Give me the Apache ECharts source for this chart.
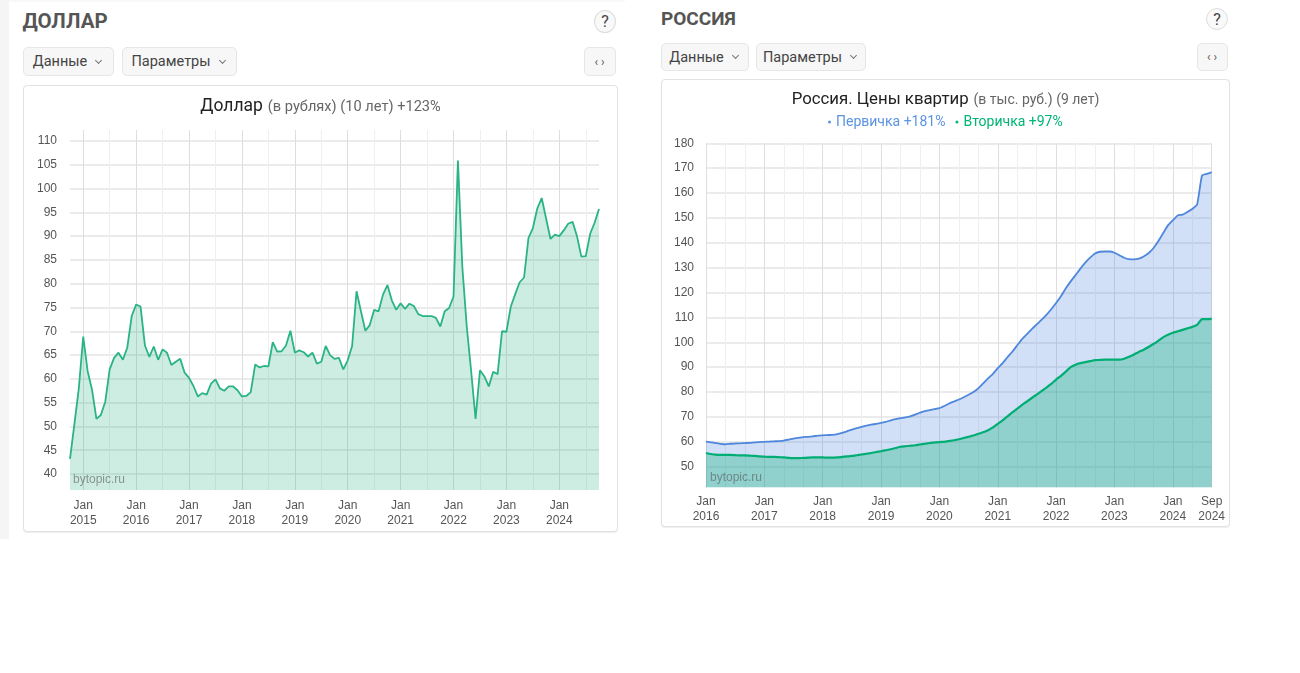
<!DOCTYPE html>
<html lang="ru"><head><meta charset="utf-8">
<script src="https://cdn.jsdelivr.net/npm/echarts@6/dist/echarts.min.js"></script>
<style>
html,body{margin:0;padding:0;width:1300px;height:673px;background:#fff;overflow:hidden;font-family:Roboto,sans-serif}
.abs{position:absolute;box-sizing:border-box}
.strip{left:0;top:0;width:9px;height:539px;background:#f5f5f5}
.topline{left:9px;top:0;width:616px;height:2px;background:#f9f9f9}
.card{background:#fff;border:1px solid #e2e2e2;border-radius:4px;box-shadow:0 1px 1px #eee}
.head{font-weight:700;color:#555;white-space:nowrap;line-height:1}
.btn{background:#f7f7f7;border:1px solid #e6e6e6;border-radius:5px;color:#444;font-size:14.5px;display:flex;align-items:center;justify-content:center;white-space:nowrap}
.chev{display:inline-block;width:4px;height:4px;border-right:1px solid #777;border-bottom:1px solid #777;transform:rotate(45deg);margin:-3px 3px 0 9px}
.code{font-size:12px;letter-spacing:3px;padding-left:2px;color:#555}
.help{background:#f9f9f9;border:1px solid #ddd;border-radius:50%;color:#444;font-size:16px;display:flex;align-items:center;justify-content:center}
#chart{position:absolute;left:0;top:0;width:1300px;height:673px}
</style></head><body>
<div class="abs strip"></div><div class="abs topline"></div>
<div class="abs head" style="left:22.5px;top:11px;font-size:20.5px">ДОЛЛАР</div>
<div class="abs help" style="left:594px;top:10px;width:22px;height:23px">?</div>
<div class="abs btn" style="left:23px;top:47px;width:91px;height:29px">Данные<i class="chev"></i></div>
<div class="abs btn" style="left:122px;top:47px;width:115px;height:29px">Параметры<i class="chev"></i></div>
<div class="abs btn code" style="left:584px;top:47px;width:32px;height:29px">‹›</div>
<div class="abs card" style="left:23px;top:85px;width:595px;height:447px"></div>
<div class="abs head" style="left:661px;top:9px;font-size:19px">РОССИЯ</div>
<div class="abs help" style="left:1206px;top:8px;width:22px;height:22px">?</div>
<div class="abs btn" style="left:661px;top:43px;width:88px;height:28px">Данные<i class="chev"></i></div>
<div class="abs btn" style="left:756px;top:43px;width:110px;height:28px">Параметры<i class="chev"></i></div>
<div class="abs btn code" style="left:1197px;top:43px;width:31px;height:28px">‹›</div>
<div class="abs card" style="left:661px;top:79px;width:569px;height:448px"></div>
<div id="chart"></div>
<script>
var dollarValues = [
 43.2,50.5,58.0,
 68.9,61.6,57.7,51.6,52.4,55.2,62.0,64.4,65.5,64.0,66.6,73.2,
 75.6,75.2,67.0,64.6,66.8,64.0,66.2,65.5,62.9,63.6,64.2,61.3,
 60.2,58.5,56.3,57.0,56.7,59.0,59.9,58.0,57.5,58.4,58.4,57.6,
 56.3,56.4,57.2,63.0,62.4,62.7,62.6,67.7,65.7,65.8,67.0,70.1,
 65.5,66.0,65.6,64.7,65.5,63.2,63.6,66.9,65.0,64.2,64.4,62.0,
 63.9,66.9,78.4,74.2,70.1,71.3,74.5,74.2,77.7,79.7,76.5,74.5,
 75.9,74.7,75.8,75.3,73.6,73.2,73.2,73.2,72.8,71.0,74.2,74.9,
 77.3,105.9,83.5,71.0,61.6,51.6,61.8,60.5,58.4,61.5,61.0,70.0,
 69.9,75.2,77.8,80.3,81.3,89.6,91.7,95.8,98.0,93.7,89.4,90.3,
 90.0,91.2,92.6,93.0,90.0,85.7,85.8,90.5,92.8,95.7
];
var primaryValues = [
 60.1,59.8,59.5,59.2,59.0,59.2,59.3,59.4,59.5,59.6,59.8,59.9,
 60.0,60.1,60.2,60.3,60.5,60.9,61.3,61.6,61.9,62.0,62.2,62.5,
 62.6,62.7,62.8,63.1,63.6,64.2,64.9,65.5,66.0,66.5,66.9,67.2,
 67.6,68.0,68.6,69.1,69.5,69.8,70.2,70.9,71.7,72.3,72.7,73.1,
 73.5,74.4,75.4,76.2,77.0,77.9,78.9,80.0,81.5,83.5,85.5,87.3,
 89.6,91.6,94.0,96.2,98.8,101.3,103.3,105.3,107.2,109.0,111.0,113.3,
 115.8,118.5,121.7,124.5,127.0,129.6,132.0,134.0,135.7,136.4,136.5,136.5,
 136.0,135.0,134.0,133.4,133.3,133.6,134.5,135.8,137.8,140.6,143.8,147.0,
 149.0,151.0,151.3,152.4,153.6,155.4,167.0,167.7,168.4
];
var secondaryValues = [
 55.5,55.1,54.8,54.7,54.7,54.7,54.6,54.5,54.5,54.4,54.3,54.1,
 54.0,53.9,53.9,53.8,53.7,53.5,53.4,53.4,53.5,53.6,53.7,53.7,
 53.7,53.6,53.6,53.7,53.9,54.1,54.3,54.6,54.9,55.2,55.5,55.9,
 56.2,56.6,57.0,57.5,58.0,58.2,58.4,58.6,58.9,59.2,59.5,59.7,
 59.9,60.0,60.3,60.6,61.0,61.5,62.0,62.5,63.2,63.8,64.6,65.8,
 67.2,68.6,70.2,71.8,73.3,74.8,76.2,77.6,79.0,80.4,81.8,83.3,
 85.0,86.5,88.2,90.0,91.0,91.6,92.0,92.4,92.8,92.9,93.0,93.0,
 93.0,93.0,93.4,94.2,95.1,96.1,97.0,98.1,99.3,100.6,102.0,103.0,
 103.8,104.4,105.0,105.6,106.2,107.0,109.3,109.3,109.4
];
var dollarTicks = [40,45,50,55,60,65,70,75,80,85,90,95,100,105,110];
var russiaTicks = [50,60,70,80,90,100,110,120,130,140,150,160,170,180];
var monthNames = ['Jan','Feb','Mar','Apr','May','Jun','Jul','Aug','Sep','Oct','Nov','Dec'];

function months(y,m,n){var a=[];for(var i=0;i<n;i++){var k=y*12+m+i;a.push(monthNames[k%12]+'\n'+Math.floor(k/12));}return a;}
var dollarCats = months(2014,9,dollarValues.length);
var russiaCats = months(2016,0,primaryValues.length);
var isJan=function(i,v){return v.indexOf('Jan')===0;};
var isJul=function(i,v){return v.indexOf('Jul')===0;};
var lastR=russiaCats.length-1;
var rMajor=function(i,v){return v.indexOf('Jan')===0||i===lastR;};
var rMinor=function(i,v){return v.indexOf('May')===0||(v.indexOf('Sep')===0&&i!==lastR);};
var axFont={color:'#555',fontFamily:'Liberation Sans',fontSize:12};
var hLine={show:true,lineStyle:{color:'#e5e5e5',width:1.5}};

function xAxes(idx,cats,majorF,minorF,labelF,margin){
 return [
  {type:'category',gridIndex:idx,data:cats,boundaryGap:false,axisLine:{show:false},axisTick:{show:false},
   axisLabel:Object.assign({interval:labelF,margin:margin,lineHeight:15,hideOverlap:false},axFont),
   splitLine:{show:true,interval:majorF,lineStyle:{color:'#dedede',width:1}}},
  {type:'category',gridIndex:idx,data:cats,boundaryGap:false,position:'bottom',axisLine:{show:false},axisTick:{show:false},
   axisLabel:{show:false},splitLine:{show:true,interval:minorF,lineStyle:{color:'#efefef',width:1}}}
 ];
}
function yAxis(idx,min,max,ticks,margin){
 return {type:'value',gridIndex:idx,min:min,max:max,axisLine:{show:false},
  axisTick:{show:false,customValues:ticks},
  axisLabel:Object.assign({customValues:ticks,margin:margin,padding:[2,0,0,0]},axFont),splitLine:hLine};
}
var wm=function(x,y){return {type:'text',left:x,top:y,z:50,style:{text:'bytopic.ru',fill:'rgba(90,90,90,0.62)',font:'12px "Liberation Sans"'}};};
var titleFont=function(main,sub,s1,s2){return {
  text:'{a|'+main+'} {b|'+sub+'}',
  textStyle:{fontWeight:'normal',rich:{a:{fontFamily:'Roboto',fontSize:s1,fontWeight:'normal',color:'#222'},b:{fontFamily:'Roboto',fontSize:s2,fontWeight:'normal',color:'#666'}}}
};};
var option={
 animation:false,
 backgroundColor:'transparent',
 title:[
  Object.assign(titleFont('Доллар','(в рублях) (10 лет) +123%',17.5,14.6),{left:315.5,top:93,textAlign:'center'}),
  Object.assign(titleFont('Россия. Цены квартир','(в тыс. руб.) (9 лет)',16.8,14),{left:940.5,top:86,textAlign:'center'})
 ],
 legend:{left:823,top:110,icon:'circle',itemWidth:3,itemHeight:3,itemGap:10,
  textStyle:{fontFamily:'Roboto',fontSize:14},
  data:[{name:'Первичка +181%',textStyle:{color:'#5b93e3'}},{name:'Вторичка +97%',textStyle:{color:'#00b574'}}]},
 grid:[
  {left:70,top:130,width:529,height:360},
  {left:706,top:143.3,width:505.7,height:344}
 ],
 xAxis:xAxes(0,dollarCats,isJan,isJul,isJan,8).concat(xAxes(1,russiaCats,rMajor,rMinor,rMajor,7)),
 yAxis:[yAxis(0,36.64,112.3,dollarTicks,13),yAxis(1,41.7,180,russiaTicks,12)],
 series:[
  {name:'Доллар',type:'line',xAxisIndex:0,yAxisIndex:0,data:dollarValues,showSymbol:false,
   lineStyle:{color:'#2ab386',width:1.8},areaStyle:{origin:'start',opacity:1,color:'rgba(33,172,122,0.22)'}},
  {name:'Первичка +181%',type:'line',xAxisIndex:2,yAxisIndex:1,data:primaryValues,showSymbol:false,smooth:0.15,
   itemStyle:{color:'#5b93e3'},lineStyle:{color:'#4f87dc',width:1.8},areaStyle:{origin:'start',opacity:1,color:'rgba(70,130,220,0.25)'}},
  {name:'Вторичка +97%',type:'line',xAxisIndex:2,yAxisIndex:1,data:secondaryValues,showSymbol:false,smooth:0.15,
   itemStyle:{color:'#00b574'},lineStyle:{color:'#00ad72',width:2.2},areaStyle:{origin:'start',opacity:1,color:'rgba(0,176,116,0.31)'}}
 ],
 graphic:[wm(73,474),wm(710,472)]
};
echarts.init(document.getElementById('chart'),null,{renderer:'canvas'}).setOption(option);
</script>
</body></html>
